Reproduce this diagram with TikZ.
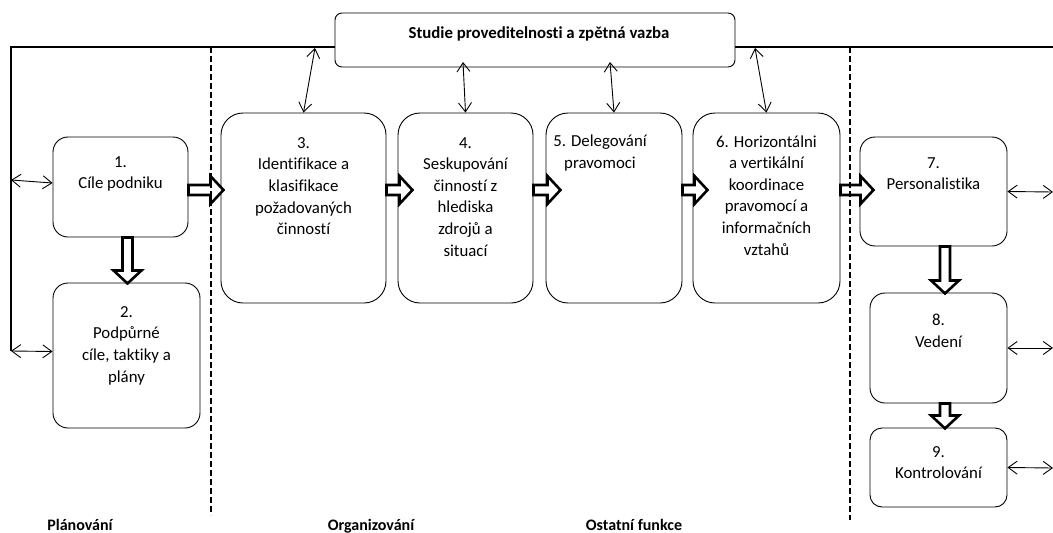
\documentclass[tikz,border=0pt]{standalone}
\usepackage{fontspec}
\setmainfont{Carlito}[Ligatures={CommonOff,ContextualOff,RareOff},Contextuals=AlternateOff]
\usetikzlibrary{arrows.meta,calc}
% hollow block arrow pointing along +x, length given as argument
\tikzset{
  pics/blockarr/.style={code={
    \draw[line width=2.6pt, fill=white, line join=miter]
      (0,-5) -- (#1-13,-5) -- (#1-13,-14) -- (#1,0) -- (#1-13,14) -- (#1-13,5) -- (0,5) -- cycle;}}
}
\begin{document}
\begin{tikzpicture}[x=1pt,y=-1pt,
  box/.style={draw, line width=0.9pt, fill=white, rounded corners=15pt, inner sep=0pt},
  bigbox/.style={box, rounded corners=22pt, minimum height=190pt},
  txt/.style={align=center, inner sep=0pt, anchor=north, font=\fontsize{16.8}{21.6}\selectfont},
  lbl/.style={inner sep=0pt, anchor=base, font=\fontsize{16}{19}\selectfont\bfseries},
  feed/.style={line width=0.9pt, {Straight Barb[length=9pt,width=13pt]}-{Straight Barb[length=9pt,width=13pt]}},
  rail/.style={line width=1.4pt},
  divider/.style={line width=1.6pt, dash pattern=on 6pt off 3pt}
]
\useasboundingbox (0,0) rectangle (1053,533);

% frame of the feedback loop
\coordinate (c0) at (11,47);
\coordinate (cr) at (1053,47);
\coordinate (cl1) at (11,180);
\coordinate (cl2) at (11,351);
\draw[rail] (cr) -- (c0) -- (cl2);

% process boxes
\node[box, minimum width=135pt, minimum height=100pt] (b1) at (120.5,187) {};
\node[box, minimum width=147pt, minimum height=145pt] (b2) at (126.5,355.5) {};
\node[bigbox, minimum width=165pt] (b3) at (303.5,208) {};
\node[bigbox, minimum width=135pt] (b4) at (465.5,208) {};
\node[bigbox, minimum width=136pt] (b5) at (614,208) {};
\node[bigbox, minimum width=147pt] (b6) at (766.5,208) {};
\node[box, minimum width=147pt, minimum height=109pt] (b7) at (933.5,191.5) {};
\node[box, minimum width=137pt, minimum height=110pt] (b8) at (938.5,348) {};
\node[box, minimum width=137pt, minimum height=79pt, rounded corners=12pt] (b9) at (938.5,467.5) {};

% box texts
\node[txt] (t1) at ($(b1.north)+(0,19.6)$) {1.\\Cíle podniku};
\node[txt] (t2) at ($(b2.north)+(0,23.6)$) {2.\\Podpůrné\\cíle, taktiky a\\plány};
\node[txt] (t3) at ($(b3.north)+(0,24.6)$) {3.\\Identifikace a\\klasifikace\\požadovaných\\činností};
\node[txt] (t4) at ($(b4.north)+(0,24.6)$) {4.\\Seskupování\\činností z\\hlediska\\zdrojů a\\situací};
\node[txt] (t5) at ($(b5.north)+(-14,22)$) {5. Delegování\\pravomoci};
\node[txt] (t6) at ($(b6.north)+(0,22.6)$) {6. Horizontálni\\a vertikální\\koordinace\\pravomocí a\\informačních\\vztahů};
\node[txt] (t7) at ($(b7.north)+(0,20.6)$) {7.\\Personalistika};
\node[txt] (t8) at ($(b8.north)+(0,21.6)$) {8.\\Vedení};
\node[txt] (t9) at ($(b9.north)+(0,18.6)$) {9.\\Kontrolování};

% feasibility study box sitting on the rail
\node[box, rounded corners=7pt, minimum width=400pt, minimum height=54pt,
      font=\fontsize{16.8}{20}\selectfont\bfseries, text height=11pt, text depth=14.2pt]
  (fb) at (535,40) {\hspace*{8pt}Studie proveditelnosti a zpětná vazba};

% two-way feedback links
\coordinate (f3) at (315,48);
\coordinate (f4) at (463,62);
\coordinate (f5) at (610,62);
\coordinate (f6) at (755,48);
\draw[feed] (f3) -- (b3.north);
\draw[feed] (f4) -- (b4.north);
\draw[feed] (f5) -- (b5.north);
\draw[feed] (f6) -- (b6.north);
\draw[feed] (cl1) -- ($(b1.west)+(0,-4)$);
\draw[feed] (cl2) -- ($(b2.west)+(0,-4)$);
\coordinate (r7) at (1053,192);
\coordinate (r8) at (1053,348);
\coordinate (r9) at (1053,468);
\draw[feed] (b7.east) -- (r7);
\draw[feed] (b8.east) -- (r8);
\draw[feed] (b9.east) -- (r9);

% flow arrows
\coordinate (hr) at (0,190);
\pic at (b1.east |- hr) {blockarr=35};
\pic at (b3.east |- hr) {blockarr=26};
\pic at (b4.east |- hr) {blockarr=27};
\pic at (b5.east |- hr) {blockarr=25};
\pic at (b6.east |- hr) {blockarr=33};
\coordinate (v1) at (127.5,0);
\coordinate (v7) at (945,0);
\pic[rotate=-90] at (b1.south -| v1) {blockarr=46};
\pic[rotate=-90] at (b7.south -| v7) {blockarr=47};
\pic[rotate=-90] at (b8.south -| v7) {blockarr=25};

% function dividers
\coordinate (d1t) at (211,47);
\coordinate (d1b) at (211,515);
\coordinate (d2t) at (850,47);
\coordinate (d2b) at (850,520);
\draw[divider, line width=1.3pt] (d1t) -- (d1b);
\draw[divider] (d2t) -- (d2b);

% function labels
\node[lbl] (l1) at (80,530) {Plánování};
\node[lbl] (l2) at (371,530) {Organizování};
\node[lbl] (l3) at (634,530) {Ostatní funkce};
\end{tikzpicture}
\end{document}
